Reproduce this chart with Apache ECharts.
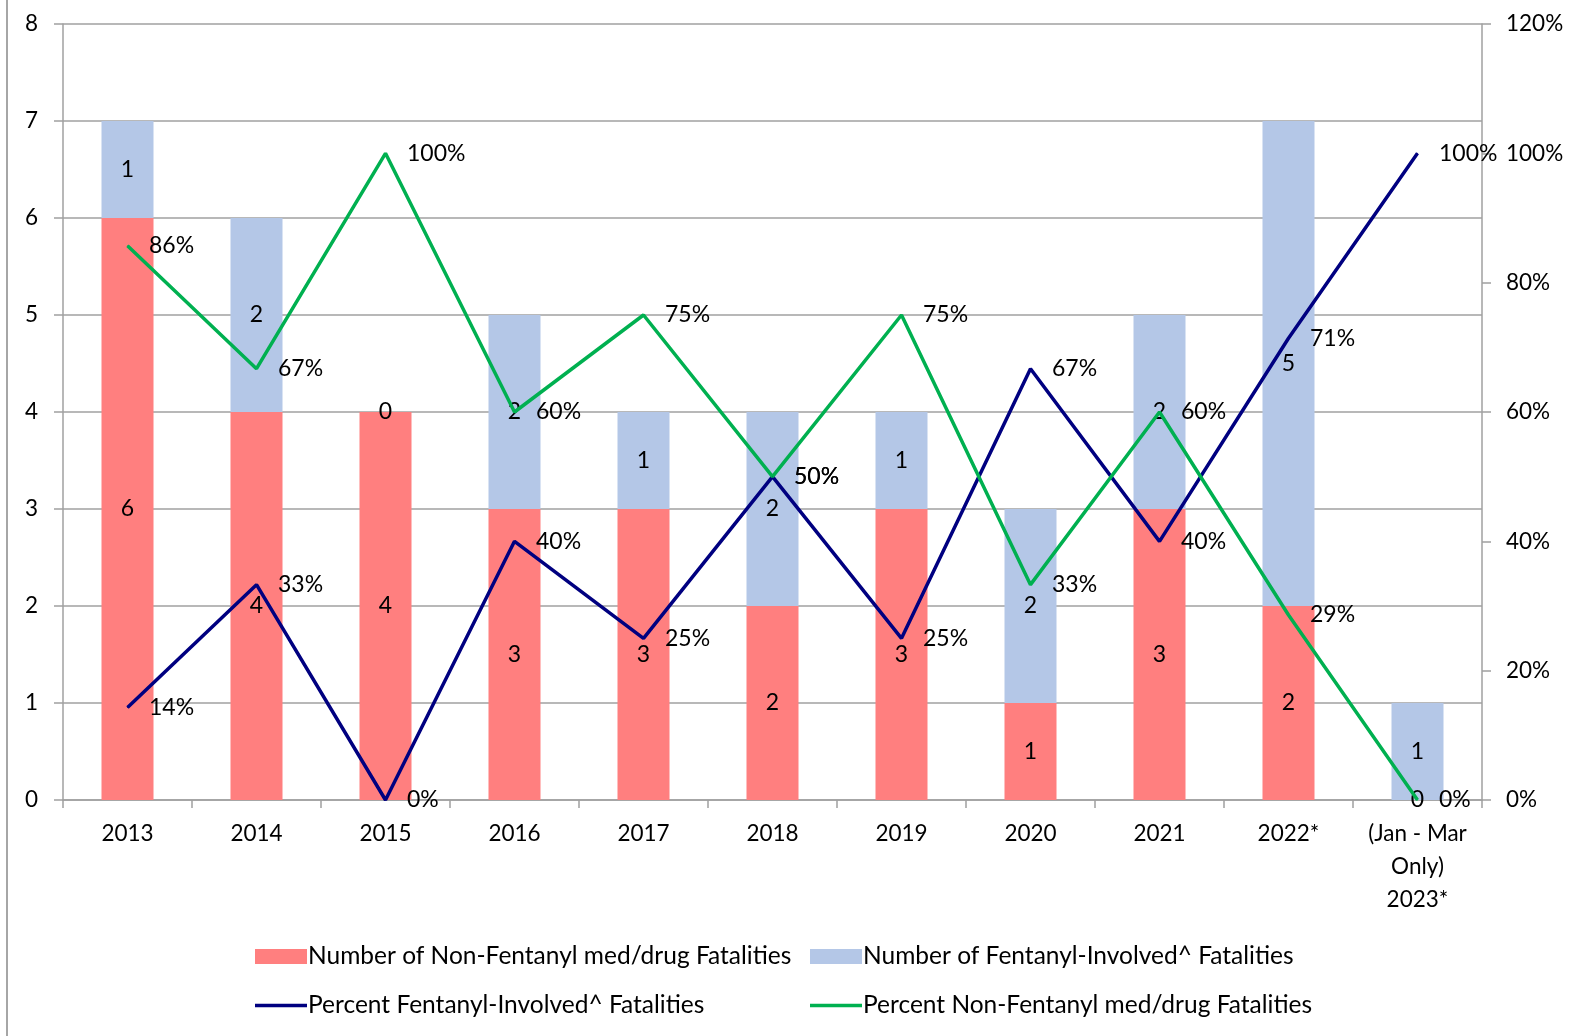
<!DOCTYPE html>
<html>
<head>
<meta charset="utf-8">
<script src="https://cdn.jsdelivr.net/npm/echarts@6/dist/echarts.min.js"></script>
<style>
  html, body { margin: 0; padding: 0; background: #fff; }
  #chart { width: 1583px; height: 1036px; }
</style>
</head>
<body>
<div id="chart"></div>
<script>
const years = ['2013', '2014', '2015', '2016', '2017', '2018', '2019', '2020', '2021', '2022*', '(Jan - Mar\nOnly)\n2023*'];
const nonFentanylCount = [6, 4, 4, 3, 3, 2, 3, 1, 3, 2, 0];
const fentanylCount = [1, 2, 0, 2, 1, 2, 1, 2, 2, 5, 1];
const pctFentanyl = [14.3, 33.3, 0, 40, 25, 50, 25, 66.7, 40, 71.4, 100];
const pctNonFentanyl = [85.7, 66.7, 100, 60, 75, 50, 75, 33.3, 60, 28.6, 0];

const FONT = 'Lato';
const barLabel = { show: true, position: 'inside', color: '#000', fontFamily: FONT, fontSize: 23 };
const lineLabel = {
  show: true, position: 'right', distance: 21, color: '#000', fontFamily: FONT, fontSize: 23,
  formatter: p => Math.round(p.value) + '%'
};
const legendText = { fontFamily: FONT, fontSize: 24.5, color: '#000', padding: [0, 0, 0, -4] };

const chart = echarts.init(document.getElementById('chart'));
chart.setOption({
  animation: false,
  textStyle: { fontFamily: FONT },
  graphic: [{
    type: 'line', shape: { x1: 7, y1: 0, x2: 7, y2: 1036 },
    style: { stroke: '#a6a6a6', lineWidth: 2 }
  }],
  grid: { left: 63, right: 101, top: 24, bottom: 236 },
  legend: [{
    orient: 'vertical', left: 250, top: 939, itemGap: 24,
    itemWidth: 52, itemHeight: 15,
    textStyle: legendText,
    data: [
      { name: 'Number of Non-Fentanyl med/drug Fatalities', icon: 'rect' },
      { name: 'Percent Fentanyl-Involved^ Fatalities', icon: 'path://M0,0H52V3.5H0Z' }
    ]
  }, {
    orient: 'vertical', left: 805, top: 939, itemGap: 24,
    itemWidth: 52, itemHeight: 15,
    textStyle: legendText,
    data: [
      { name: 'Number of Fentanyl-Involved^ Fatalities', icon: 'rect' },
      { name: 'Percent Non-Fentanyl med/drug Fatalities', icon: 'path://M0,0H52V3.5H0Z' }
    ]
  }],
  xAxis: {
    type: 'category',
    data: years,
    axisLine: { lineStyle: { color: '#a0a0a0', width: 1.5 } },
    axisTick: { show: true, length: 8, lineStyle: { color: '#a0a0a0', width: 1.5 } },
    axisLabel: { color: '#000', fontFamily: FONT, fontSize: 22.5, margin: 17, lineHeight: 33, interval: 0 }
  },
  yAxis: [{
    type: 'value', min: 0, max: 8, interval: 1,
    axisLine: { show: true, lineStyle: { color: '#a0a0a0', width: 1.5 } },
    axisTick: { show: true, length: 9, lineStyle: { color: '#a0a0a0', width: 1.5 } },
    axisLabel: { color: '#000', fontFamily: FONT, fontSize: 22.5, margin: 25 },
    splitLine: { show: true, lineStyle: { color: '#a0a0a0', width: 1.5 } }
  }, {
    type: 'value', min: 0, max: 120, interval: 20, position: 'right',
    axisLine: { show: true, lineStyle: { color: '#a0a0a0', width: 1.5 } },
    axisTick: { show: true, length: 9, lineStyle: { color: '#a0a0a0', width: 1.5 } },
    axisLabel: { color: '#000', fontFamily: FONT, fontSize: 22.5, margin: 24, formatter: '{value}%' },
    splitLine: { show: false }
  }],
  series: [{
    name: 'Number of Non-Fentanyl med/drug Fatalities',
    type: 'bar', stack: 'count', barWidth: 52,
    itemStyle: { color: '#ff7f7f' },
    label: barLabel,
    data: nonFentanylCount
  }, {
    name: 'Number of Fentanyl-Involved^ Fatalities',
    type: 'bar', stack: 'count', barWidth: 52,
    itemStyle: { color: '#b4c7e7' },
    label: barLabel,
    data: fentanylCount
  }, {
    name: 'Percent Fentanyl-Involved^ Fatalities',
    type: 'line', yAxisIndex: 1,
    symbol: 'circle', symbolSize: 1,
    itemStyle: { color: '#000080' },
    lineStyle: { color: '#000080', width: 3.5 },
    label: lineLabel,
    data: pctFentanyl
  }, {
    name: 'Percent Non-Fentanyl med/drug Fatalities',
    type: 'line', yAxisIndex: 1,
    symbol: 'circle', symbolSize: 1,
    itemStyle: { color: '#00b050' },
    lineStyle: { color: '#00b050', width: 3.5 },
    label: lineLabel,
    data: pctNonFentanyl
  }]
});
</script>
</body>
</html>
